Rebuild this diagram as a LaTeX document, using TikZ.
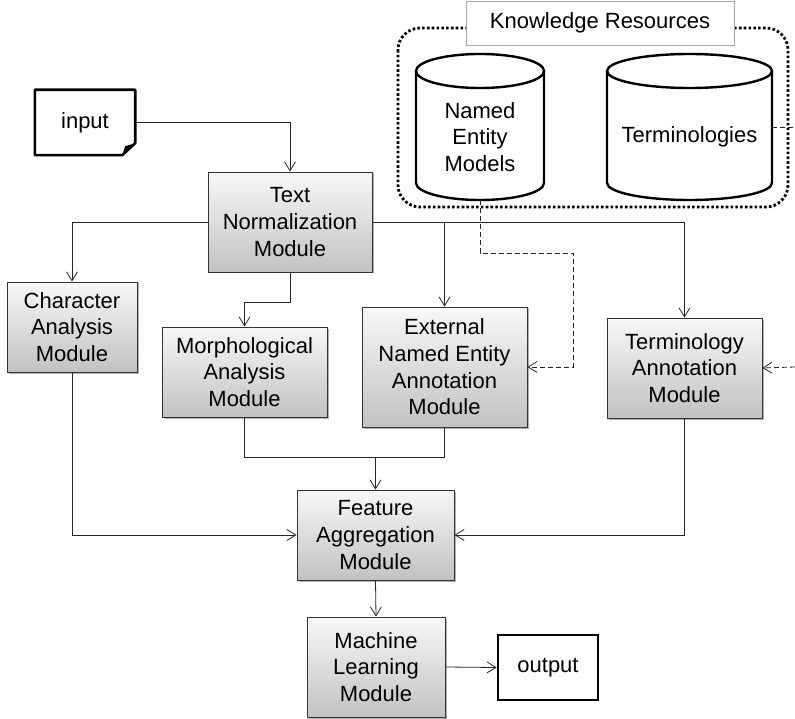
\documentclass[tikz,border=0pt]{standalone}
\usepackage{fontspec}
\setmainfont{Liberation Sans}
\usetikzlibrary{arrows.meta,shadows,calc}
\begin{document}
\begin{tikzpicture}[x=1pt,y=-1pt,
  font=\fontsize{22}{26.7}\selectfont,
  module/.style={draw=black!80,line width=0.9pt,align=center,inner sep=2pt,
    top color=gray!6,bottom color=gray!48,
    drop shadow={shadow xshift=1.5pt,shadow yshift=-1.5pt,fill=black,opacity=0.3}},
  iobox/.style={align=center,inner sep=2pt},
  conn/.style={draw=black!85,line width=0.8pt,-{Straight Barb[length=9pt,width=11pt,line width=0.8pt]}},
  line/.style={draw=black!85,line width=0.8pt},
  dconn/.style={conn,dash pattern=on 5pt off 3pt},
  dline/.style={line,dash pattern=on 5pt off 3pt},
  cyl/.style={line width=2.4pt},
]
\useasboundingbox (0,0) rectangle (795,719);

% knowledge resources container
\draw[line width=2.8pt,dash pattern=on 2.6pt off 2.2pt,rounded corners=22pt] (398,28) rectangle (788,207);
\node[draw=gray!70,fill=white,line width=0.8pt,minimum width=268pt,minimum height=44pt,inner sep=0pt] (kr) at (600,23) {Knowledge Resources};

% cylinders
\node[iobox,minimum width=128pt,minimum height=126pt] (nem) at (480,137) {Named\\Entity\\Models};
\draw[cyl] (416,71) -- (416,183) arc[start angle=180,end angle=0,x radius=64,y radius=17] -- (544,71);
\draw[cyl] (480,71) ellipse[x radius=64,y radius=17];
\node[iobox,minimum width=165pt,minimum height=126pt] (term) at (689.5,137) {Terminologies};
\draw[cyl] (607,71) -- (607,183) arc[start angle=180,end angle=0,x radius=82.5,y radius=17] -- (772,71);
\draw[cyl] (689.5,71) ellipse[x radius=82.5,y radius=17];

% input
\node[iobox,minimum width=100pt,minimum height=65pt] (in) at (85,122.5) {input};
\draw[line width=2.6pt,line join=round] (in.north west) -- (in.north east) -- ([yshift=12pt]in.south east) -- ([xshift=-13pt]in.south east) -- (in.south west) -- cycle;
\fill ([xshift=-13pt]in.south east) -- ([yshift=12pt]in.south east) -- ([xshift=-10pt,yshift=9pt]in.south east) -- cycle;

% modules
\node[module,minimum width=164pt,minimum height=100pt] (tn) at (290,222) {Text\\Normalization\\Module};
\node[module,minimum width=130pt,minimum height=90pt] (ca) at (72,327) {Character\\Analysis\\Module};
\node[module,minimum width=165pt,minimum height=90pt] (ma) at (244.5,372) {Morphological\\Analysis\\Module};
\node[module,minimum width=165pt,minimum height=120pt] (ne) at (444.5,367) {External\\Named Entity\\Annotation\\Module};
\node[module,minimum width=155pt,minimum height=100pt] (ta) at (684.5,368) {Terminology\\Annotation\\Module};
\node[module,minimum width=157pt,minimum height=90pt] (fa) at (375.5,535) {Feature\\Aggregation\\Module};
\node[module,minimum width=138pt,minimum height=100pt] (ml) at (376,667) {Machine\\Learning\\Module};
\node[iobox,draw,line width=2.6pt,minimum width=100pt,minimum height=65pt] (out) at (548,667.5) {output};

% connectors
\draw[conn] (in.east) -| (tn.north);
\draw[conn] (tn.west) -| (ca.north);
\draw[conn] (tn.south) -- ++(0,30) -| (ma.north);
\draw[conn] (tn.east) -| (ne.north);
\draw[conn] (tn.east) -| (ta.north);

\draw[dconn] (nem.south) -- (480,253) -| (573,300) |- (ne.east);
\coordinate (tr) at (795,127);
\draw[dline] (term.east |- tr) -- (tr);
\coordinate (tin) at (795,367);
\draw[dconn] (tin) -- (ta.east);

\coordinate (j) at (375.5,457);
\draw[line] (ma.south) |- (j);
\draw[line] (ne.south) |- (j);
\draw[conn] (j) -- (fa.north);
\draw[conn] (ca.south) |- (fa.west);
\draw[conn] (ta.south) |- (fa.east);
\draw[conn] (fa.south) -- (ml.north);
\draw[conn] (ml.east) -- (out.west);
\end{tikzpicture}
\end{document}
